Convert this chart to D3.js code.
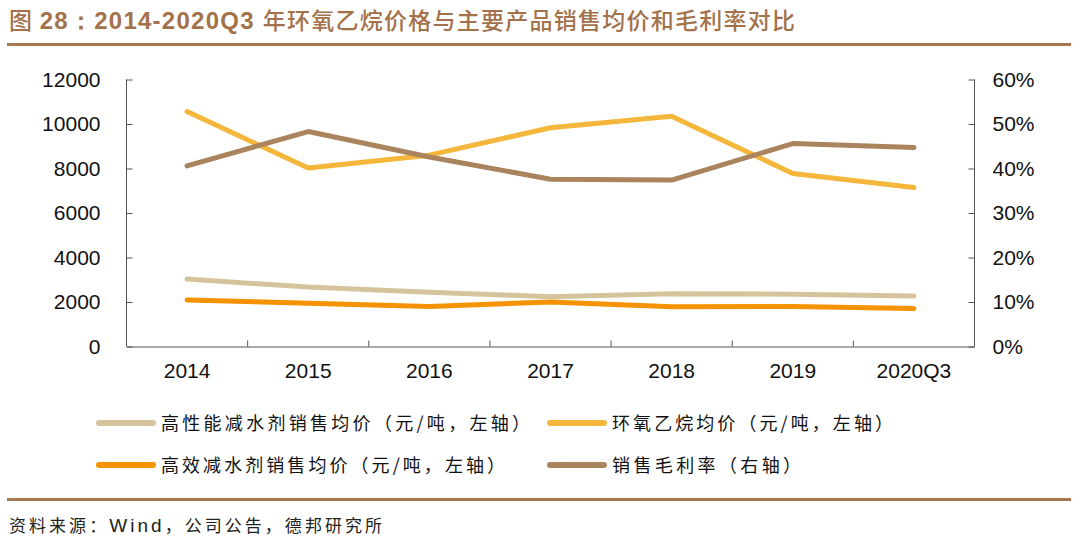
<!DOCTYPE html>
<html><head><meta charset="utf-8">
<script src="https://cdn.jsdelivr.net/npm/d3@7"></script>
<style>body{margin:0;background:#fff}svg{display:block}</style>
</head><body>
<svg id="c" width="1080" height="544"></svg>
<script>
const categories = ["2014","2015","2016","2017","2018","2019","2020Q3"];
const highPerf = [3030, 2670, 2440, 2240, 2370, 2350, 2270];   // 高性能减水剂销售均价
const eoPrice  = [10560, 8020, 8600, 9830, 10350, 7780, 7150]; // 环氧乙烷均价
const highEff  = [2090, 1945, 1800, 2000, 1785, 1800, 1710];   // 高效减水剂销售均价
const margin   = [40.6, 48.3, 42.6, 37.6, 37.4, 45.6, 44.7];   // 销售毛利率 %
const leftTicks = [0,2000,4000,6000,8000,10000,12000];
const rightTicks = [0,10,20,30,40,50,60];

const svg = d3.select("#c");
const L = 126.5, R = 974.5, T = 79.5, B = 346.5;
const font = "'Liberation Sans', Arial, sans-serif";
const cjk = "'Noto Sans CJK SC', sans-serif";

// title
const title = svg.append("text").attr("x",9).attr("y",29).attr("fill","#A3714A")
  .attr("textLength",786).attr("lengthAdjust","spacing");
title.append("tspan").attr("font-family",cjk).attr("font-size",23).attr("font-weight",500).text("图 ");
title.append("tspan").attr("font-family",font).attr("font-size",24).attr("font-weight","bold").text("28：2014-2020Q3 ");
title.append("tspan").attr("font-family",cjk).attr("font-size",23).attr("font-weight",500).text("年环氧乙烷价格与主要产品销售均价和毛利率对比");
svg.append("rect").attr("x",7).attr("y",43).attr("width",1064).attr("height",3).attr("fill","#A57A52");
svg.append("rect").attr("x",7).attr("y",498).attr("width",1064).attr("height",3).attr("fill","#A57A52");
const src = svg.append("text").attr("x",9).attr("y",532).attr("font-size",17).attr("fill","#222")
  .attr("textLength",373).attr("lengthAdjust","spacing");
src.append("tspan").attr("font-family",cjk).text("资料来源：");
src.append("tspan").attr("font-family",font).attr("font-size",19).text("Wind");
src.append("tspan").attr("font-family",cjk).text("，公司公告，德邦研究所");

const xb = d3.scaleBand().domain(categories).range([L,R]);
const x = d => xb(d) + xb.bandwidth()/2;
const yL = d3.scaleLinear().domain([0,12000]).range([B,T]);
const yR = d3.scaleLinear().domain([0,60]).range([B,T]);

// axes
const gx = svg.append("g").attr("transform",`translate(0,${B})`)
  .call(d3.axisBottom(xb).tickSize(0).tickPadding(17));
gx.select(".domain").attr("stroke","#555");
gx.selectAll("text").attr("font-family",font).attr("font-size",21).attr("fill","#111");
svg.append("g").selectAll("line").data(categories.slice(1)).join("line")
  .attr("x1",d=>xb(d)).attr("x2",d=>xb(d)).attr("y1",B).attr("y2",B-6).attr("stroke","#555");

const gl = svg.append("g").attr("transform",`translate(${L},0)`)
  .call(d3.axisLeft(yL).tickValues(leftTicks).tickSize(-6).tickPadding(26).tickFormat(d3.format("d")));
gl.select(".domain").attr("stroke","#555").attr("d",`M0,${B}V${T}`);
gl.selectAll("line").attr("stroke","#555");
gl.selectAll("text").attr("font-family",font).attr("font-size",21).attr("fill","#111");

const gr = svg.append("g").attr("transform",`translate(${R},0)`)
  .call(d3.axisRight(yR).tickValues(rightTicks).tickSize(-6).tickPadding(18).tickFormat(d=>d+"%"));
gr.select(".domain").attr("stroke","#555").attr("d",`M0,${B}V${T}`);
gr.selectAll("line").attr("stroke","#555");
gr.selectAll("text").attr("font-family",font).attr("font-size",21).attr("fill","#111");

const series = [
  {name:"高性能减水剂销售均价（元/吨，左轴）", vals:highPerf, y:yL, color:"#D5C39C", pos:[97,423], w:369},
  {name:"环氧乙烷均价（元/吨，左轴）", vals:eoPrice, y:yL, color:"#F5B73B", pos:[548,423], w:281},
  {name:"高效减水剂销售均价（元/吨，左轴）", vals:highEff, y:yL, color:"#F59200", pos:[97,465], w:344},
  {name:"销售毛利率（右轴）", vals:margin, y:yR, color:"#A9845C", pos:[548,465], w:189}
];
const drawOrder = [0,2,1,3];
drawOrder.forEach(i=>{
  const s = series[i];
  const line = d3.line().x((d,j)=>x(categories[j])).y(d=>s.y(d));
  svg.append("path").datum(s.vals).attr("d",line).attr("fill","none")
    .attr("stroke",s.color).attr("stroke-width",5).attr("stroke-linecap","round").attr("stroke-linejoin","round");
});

// legend
series.forEach(s=>{
  const [lx,ly] = s.pos;
  svg.append("line").attr("x1",lx+2).attr("x2",lx+56).attr("y1",ly).attr("y2",ly)
    .attr("stroke",s.color).attr("stroke-width",6).attr("stroke-linecap","round");
  svg.append("text").attr("x",lx+64).attr("y",ly+7).attr("font-family",cjk).attr("font-size",18)
    .attr("fill","#111").attr("textLength",s.w).attr("lengthAdjust","spacing").text(s.name);
});
</script>
</body></html>
